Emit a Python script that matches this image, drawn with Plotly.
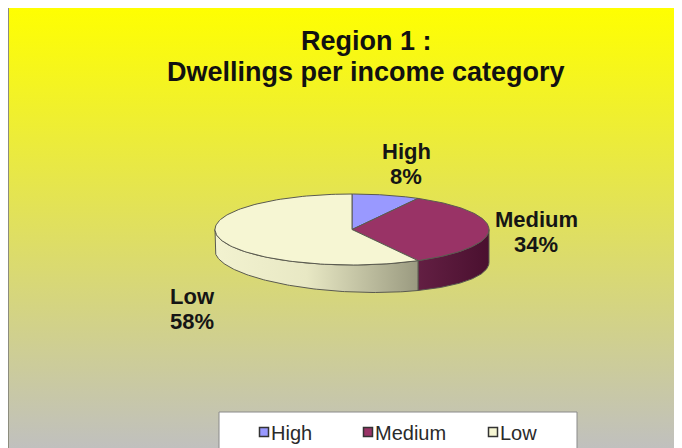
import numpy as np
import plotly.graph_objects as go

# ---------------- data ----------------
categories = ["High", "Medium", "Low"]
shares = [8, 34, 58]          # percent of dwellings
title_lines = ["Region 1 :", "Dwellings per income category"]

# ---------------- style / layout ----------------
W, H = 682, 448
OFF = 8  # page body margin of the html page
FONT = "Arial, Liberation Sans, sans-serif"
top_colors = ["#9999FF", "#993366", "#F6F6D3"]
side_scales = [
    [[0, "#6a6acc"], [1, "#5555aa"]],
    [[0, "#631f43"], [1, "#4a102f"]],
    [[0, "#F2F2D0"], [0.45, "#E8E8C4"], [1, "#9A9A80"]],
]
EDGE = "#5a5a50"
CX, CY, RX, RY = 352, 229.5, 137, 35.5
label_pos = [(406, 151), (536, 219), (192, 296)]   # first line centre
LABEL_GAP = 25
legend_marker_x = [264, 368, 493]
legend_y = 432
title_pos = [(366, 41), (366, 72)]


def depth(t):
    return 27 + 6 * np.sin(t)


def arc(a1, a2, n=120):
    t = np.linspace(a1, a2, n)
    return t, CX + RX * np.sin(t), CY - RY * np.cos(t)


fig = go.Figure()

# background gradient panel
fig.add_trace(go.Scatter(
    x=[8, W + 10, W + 10, 8, 8], y=[6, 6, H + 10, H + 10, 6], mode="lines", fill="toself",
    line=dict(width=0),
    fillgradient=dict(type="vertical", colorscale=[[0, "#FFFF00"], [1, "#C0C0BE"]],
                      start=6, stop=H),
    hoverinfo="skip", showlegend=False))

total = sum(shares)
bounds = np.concatenate([[0], np.cumsum(shares)]) / total * 2 * np.pi

# side walls (front half only)
for i, cat in enumerate(categories):
    a1, a2 = bounds[i], bounds[i + 1]
    lo, hi = max(a1, np.pi / 2), min(a2, 3 * np.pi / 2)
    if hi <= lo:
        continue
    t, x, y = arc(lo, hi)
    yb = y + depth(t)
    xs = np.concatenate([x, x[::-1], x[:1]])
    ys = np.concatenate([y, yb[::-1], y[:1]])
    fig.add_trace(go.Scatter(
        x=xs, y=ys, mode="lines", fill="toself",
        line=dict(color=EDGE, width=1),
        fillgradient=dict(type="horizontal", colorscale=side_scales[i],
                          start=float(x.min()), stop=float(x.max())),
        hoverinfo="skip", showlegend=False))

# top faces
for i, cat in enumerate(categories):
    a1, a2 = bounds[i], bounds[i + 1]
    t, x, y = arc(a1, a2)
    xs = np.concatenate([[CX], x, [CX]])
    ys = np.concatenate([[CY], y, [CY]])
    fig.add_trace(go.Scatter(
        x=xs, y=ys, mode="lines", fill="toself", fillcolor=top_colors[i],
        line=dict(color=EDGE, width=1),
        name=cat, hoverinfo="name", showlegend=False))

# slice labels (two lines each)
for i, cat in enumerate(categories):
    lx, ly = label_pos[i]
    for k, txt in enumerate([cat, f"{shares[i]}%"]):
        fig.add_annotation(x=lx, y=ly + k * LABEL_GAP,
                           text=f"<b>{txt}</b>", showarrow=False,
                           font=dict(family=FONT, size=22, color="#151515"),
                           xanchor="center", yanchor="middle")

# title
for (tx, ty), line in zip(title_pos, title_lines):
    fig.add_annotation(x=tx, y=ty, text=f"<b>{line}</b>", showarrow=False,
                       font=dict(family=FONT, size=27, color="#111111"),
                       xanchor="center", yanchor="middle")

# legend box
fig.add_trace(go.Scatter(
    x=[219, 577, 577, 219, 219], y=[412, 412, H + 20, H + 20, 412], mode="lines",
    fill="toself", fillcolor="white", line=dict(color="#8a8a8a", width=1),
    hoverinfo="skip", showlegend=False))
fig.add_trace(go.Scatter(
    x=legend_marker_x, y=[legend_y] * 3, mode="markers",
    marker=dict(symbol="square", size=9, color=top_colors,
                line=dict(color="#333333", width=1.5)),
    hoverinfo="skip", showlegend=False))
for i, cat in enumerate(categories):
    fig.add_annotation(x=legend_marker_x[i] + 5, y=legend_y + 1, text=cat, showarrow=False,
                       font=dict(family=FONT, size=20, color="#2a2a2a"),
                       xanchor="left", yanchor="middle")

# left border line
fig.add_shape(type="line", x0=8, x1=8, y0=6, y1=H + 10,
              line=dict(color="#8c8c7e", width=2))

fig.update_layout(
    width=W, height=H, margin=dict(l=0, r=0, t=0, b=0),
    paper_bgcolor="white", plot_bgcolor="white",
    xaxis=dict(range=[OFF, W + OFF], visible=False, fixedrange=True),
    yaxis=dict(range=[H + OFF, OFF], visible=False, fixedrange=True),
    showlegend=False,
)
fig.write_html("out.html")
